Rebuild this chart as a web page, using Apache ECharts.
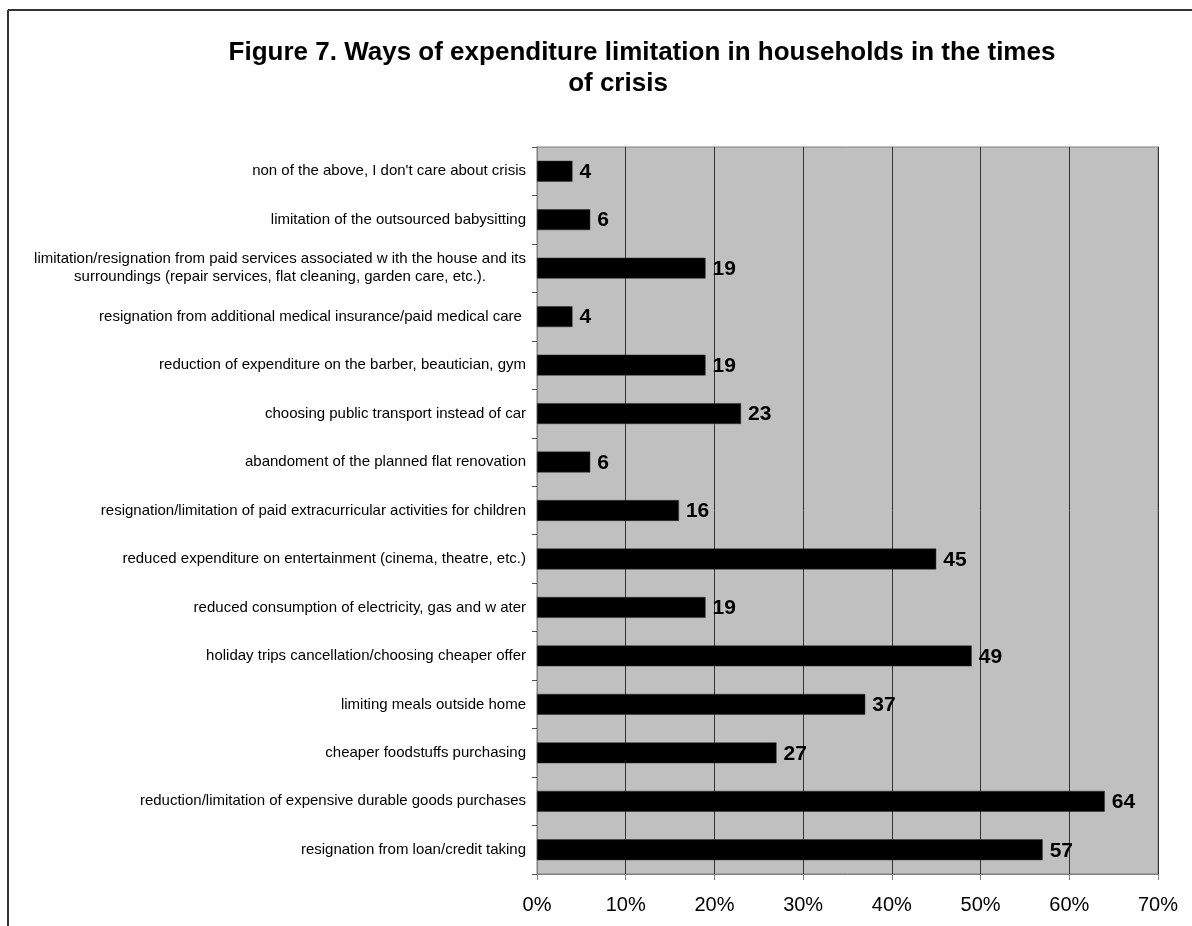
<!DOCTYPE html>
<html>
<head>
<meta charset="utf-8">
<title>Figure 7</title>
<script src="https://cdn.jsdelivr.net/npm/echarts@6/dist/echarts.min.js"></script>
<style>
  html, body { margin: 0; padding: 0; background: #fff; }
  #chart { width: 1192px; height: 926px; }
</style>
</head>
<body>
<div id="chart"></div>
<script>
// Categories listed bottom-to-top (category axis starts at the bottom)
const categories = [
  "resignation from loan/credit taking",
  "reduction/limitation of expensive durable goods purchases",
  "cheaper foodstuffs purchasing",
  "limiting meals outside home",
  "holiday trips cancellation/choosing cheaper offer",
  "reduced consumption of electricity, gas and w ater",
  "reduced expenditure on entertainment (cinema, theatre, etc.)",
  "resignation/limitation of paid extracurricular activities for children",
  "abandoment of the planned flat renovation",
  "choosing public transport instead of car",
  "reduction of expenditure on the barber, beautician, gym",
  "resignation from additional medical insurance/paid medical care ",
  "limitation/resignation from paid services associated w ith the house and its\nsurroundings (repair services, flat cleaning, garden care, etc.).",
  "limitation of the outsourced babysitting",
  "non of the above, I don't care about crisis"
];

// Share of households (%)
const values = [57, 64, 27, 37, 49, 19, 45, 16, 6, 23, 19, 4, 19, 6, 4];

const xTicks = [0, 10, 20, 30, 40, 50, 60, 70];

const titleLine1 = "Figure 7. Ways of expenditure limitation in households in the times";
const titleLine2 = "of crisis";

const chart = echarts.init(document.getElementById('chart'));

const font = "Liberation Sans, Arial, sans-serif";

chart.setOption({
  animation: false,
  backgroundColor: '#ffffff',
  title: [
    {
      text: titleLine1,
      left: 637, top: 35,
      textAlign: 'center',
      textStyle: { fontFamily: font, fontSize: 26, fontWeight: 'bold', color: '#000' }
    },
    {
      text: titleLine2,
      left: 613, top: 66,
      textAlign: 'center',
      textStyle: { fontFamily: font, fontSize: 26, fontWeight: 'bold', color: '#000' }
    }
  ],
  graphic: [
    { type: 'line', shape: { x1: 8, y1: 10, x2: 8, y2: 926 }, style: { stroke: '#333', lineWidth: 2 } },
    { type: 'line', shape: { x1: 8, y1: 10, x2: 1192, y2: 10 }, style: { stroke: '#333', lineWidth: 2 } }
  ],
  grid: {
    left: 537, right: 34, top: 147, bottom: 52,
    show: true,
    backgroundColor: '#c0c0c0',
    borderColor: '#808080',
    borderWidth: 1
  },
  xAxis: {
    type: 'value',
    min: xTicks[0],
    max: xTicks[xTicks.length - 1],
    interval: 10,
    axisLine: { show: true, lineStyle: { color: '#808080' } },
    axisTick: { show: true, length: 6, lineStyle: { color: '#808080' } },
    axisLabel: {
      formatter: '{value}%',
      fontFamily: font, fontSize: 20, color: '#000', margin: 21
    },
    splitLine: { show: true, lineStyle: { color: '#333', width: 1 } }
  },
  yAxis: {
    type: 'category',
    data: categories,
    axisLine: { show: true, lineStyle: { color: '#808080' } },
    axisTick: { show: true, length: 5, lineStyle: { color: '#555' } },
    axisLabel: {
      fontFamily: font, fontSize: 15, color: '#000', margin: 11,
      formatter: function (v) {
        return v.split('\n').map(function (l) { return '{c|' + l + '}'; }).join('\n');
      },
      rich: { c: { align: 'center', fontFamily: font, fontSize: 15, color: '#000', lineHeight: 18 } }
    },
    splitLine: { show: false }
  },
  series: [{
    type: 'bar',
    data: values,
    barWidth: '43%',
    itemStyle: { color: '#000', borderColor: '#333', borderWidth: 0.5 },
    label: {
      show: true,
      position: 'right',
      distance: 7,
      offset: [0, 1],
      fontFamily: font, fontSize: 21, fontWeight: 'bold', color: '#000'
    }
  }]
});
</script>
</body>
</html>
